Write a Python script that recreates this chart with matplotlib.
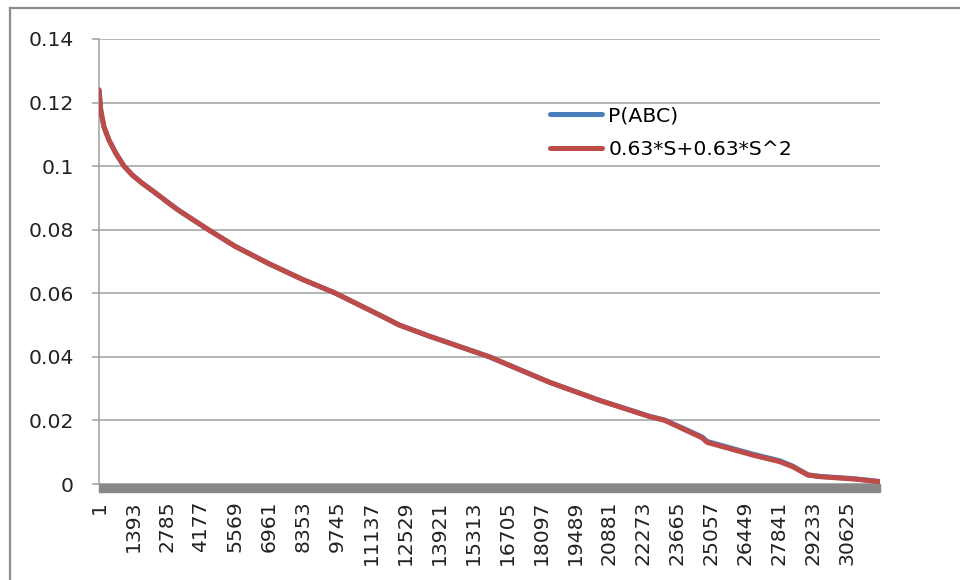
#!/usr/bin/env python
# line chart: P(ABC) vs fitted 0.63*S+0.63*S^2
import matplotlib
matplotlib.use("Agg")
import matplotlib.pyplot as plt
import matplotlib.patches as patches
from matplotlib.lines import Line2D

# values (row index, value)
idx = [1, 70, 205, 410, 685, 1025, 1365, 1775, 2325, 2870, 3280, 4440,
       5569, 6961, 8353, 9635, 11480, 12300, 13530, 15990, 17220, 18450,
       20500, 22550, 23170, 23780, 24700, 24900, 26770, 27880, 28415, 29030,
       29520, 30870, 31980]
fit_vals = [0.1240, 0.1177, 0.1123, 0.1082, 0.1041, 0.1000, 0.0972, 0.0946,
            0.0915, 0.0883, 0.0860, 0.0802, 0.0748, 0.0693, 0.0643, 0.0602,
            0.0532, 0.0500, 0.0465, 0.0400, 0.0360, 0.0320, 0.0263, 0.0212,
            0.0200, 0.0178, 0.0145, 0.0131, 0.0091, 0.0070, 0.0054, 0.0028,
            0.0023, 0.0016, 0.0007]
p_abc = [0.1240, 0.1177, 0.1123, 0.1082, 0.1041, 0.1000, 0.0972, 0.0946,
         0.0915, 0.0883, 0.0860, 0.0802, 0.0748, 0.0693, 0.0643, 0.0602,
         0.0532, 0.0500, 0.0465, 0.0400, 0.0360, 0.0320, 0.0263, 0.0213,
         0.0201, 0.0180, 0.0148, 0.0134, 0.0094, 0.0073, 0.0056, 0.0029,
         0.0024, 0.0017, 0.0008]

xtick_labels = [1, 1393, 2785, 4177, 5569, 6961, 8353, 9745, 11137, 12529,
                13921, 15313, 16705, 18097, 19489, 20881, 22273, 23665,
                25057, 26449, 27841, 29233, 30625]
yticks = [0, 0.02, 0.04, 0.06, 0.08, 0.1, 0.12, 0.14]
ytick_labels = ['0', '0.02', '0.04', '0.06', '0.08', '0.1', '0.12', '0.14']

fs = 14.7
fig = plt.figure(figsize=(9.6, 5.8), dpi=100)
ax = fig.add_axes([99 / 960., 1 - 484 / 580., (880 - 99) / 960., (484 - 39) / 580.])

ax.plot(idx, p_abc, color='#4a7ebb', linewidth=3.6, label='P(ABC)',
        solid_capstyle='round', solid_joinstyle='round', zorder=3)
ax.plot(idx, fit_vals, color='#be4b48', linewidth=3.6, label='0.63*S+0.63*S^2',
        solid_capstyle='round', solid_joinstyle='round', zorder=4)

ax.set_xlim(1, 31980)
ax.set_ylim(0, 0.14)
ax.set_yticks(yticks)
ax.set_yticklabels(ytick_labels)
ax.set_xticks(xtick_labels)
ax.set_xticklabels([str(v) for v in xtick_labels], rotation=90)

ax.grid(axis='y', color='#a0a0a0', linewidth=1.1)
ax.set_axisbelow(True)
for s in ['top', 'right', 'bottom']:
    ax.spines[s].set_visible(False)
ax.spines['left'].set_color('#a0a0a0')
ax.spines['left'].set_linewidth(1.1)

ax.tick_params(axis='y', length=5, width=1.1, color='#a0a0a0', pad=13,
               labelsize=fs, labelcolor='#222222')
ax.tick_params(axis='x', length=0, pad=12, labelsize=fs, labelcolor='#222222')

# dense category ticks show as a gray band under the axis
ax.add_patch(patches.Rectangle((0, -8 / 445.), 1, 8 / 445., transform=ax.transAxes,
                               clip_on=False, color='#888888', zorder=2))

fig.legend(loc='upper left', bbox_to_anchor=(550 / 960., 1 - 106 / 580.),
           frameon=False, fontsize=fs, handlelength=2.55, handletextpad=0.3,
           labelspacing=0.72, borderpad=0, borderaxespad=0)

# outer chart frame
fig.add_artist(Line2D([10 / 960., 1.0], [1 - 8 / 580., 1 - 8 / 580.],
                      transform=fig.transFigure, color='#8c8c8c', linewidth=1.6))
fig.add_artist(Line2D([10 / 960., 10 / 960.], [0.0, 1 - 8 / 580.],
                      transform=fig.transFigure, color='#8c8c8c', linewidth=1.6))

plt.savefig('out.png', dpi=100)
